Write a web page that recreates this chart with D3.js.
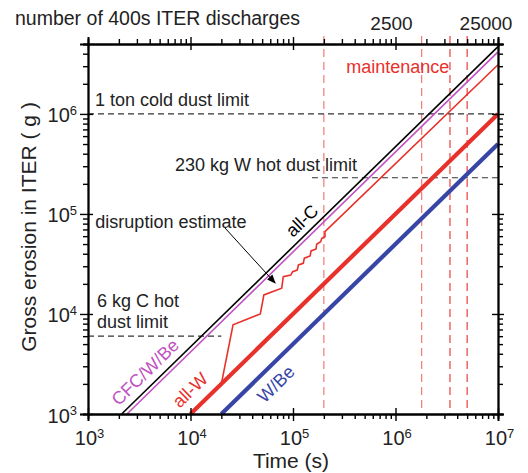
<!DOCTYPE html>
<html>
<head>
<meta charset="utf-8">
<script src="https://cdn.jsdelivr.net/npm/d3@7"></script>
<style>
  body { margin: 0; background: #fff; }
  svg { font-family: "Liberation Sans", Arial, sans-serif; }
</style>
</head>
<body>
<svg id="chart" width="528" height="473"></svg>
<script>
// erosion lines, [time s, grams] end points
const allC_t = [2130, 1e7];
const allC_E = [1000, 4.7e6];
const cfc_t = [2400, 1e7];
const cfc_E = [1000, 4.17e6];
const allW_t = [1e4, 1e7];
const allW_E = [1000, 1e6];
const wbe_t = [2e4, 1e7];
const wbe_E = [1000, 5e5];

// all-W with disruptions
const disr_t = [2e4, 2.6e4, 4.8e4, 5.2e4, 7.76e4, 8.04e4, 9.5e4, 9.93e4, 1.10e5, 1.13e5, 1.26e5, 1.29e5,
  1.47e5, 1.50e5, 1.68e5, 1.70e5, 1.86e5, 1.91e5, 2.05e5, 2.05e5, 1e7];
const disr_E = [2000, 7800, 1.0e4, 1.55e4, 1.81e4, 2.36e4, 2.45e4, 2.65e4, 2.75e4, 3.09e4, 3.21e4, 3.61e4,
  3.80e4, 4.27e4, 4.47e4, 4.98e4, 5.28e4, 5.71e4, 5.93e4, 6.65e4, 3.1e6];

// dust limits
const limitNames = ["1 ton cold dust limit", "230 kg W hot dust limit", "6 kg C hot|dust limit"];
const limitE = [1e6, 2.3e5, 6000];
const limitFrom = [1e3, 1.53e5, 1e3];
const limitTo = [1e7, 1e7, 2e4];

// maintenance times
const maintT = [2e5, 1.8e6, 3.4e6, 5e6];

const xTicks = [1e3, 1e4, 1e5, 1e6, 1e7];
const yTicks = [1e3, 1e4, 1e5, 1e6];
const topTicks = [1e6, 1e7];
const topLabels = ["2500", "25000"];

const width = 528, height = 473;
const margin = {top: 44, right: 30, bottom: 59, left: 88};

const svg = d3.select("#chart");

const x = d3.scaleLog().domain([1e3, 1e7]).range([margin.left, width - margin.right]);
const y = d3.scaleLog().domain([1e3, 5e6]).range([height - margin.bottom, margin.top]);

const red = "#e8312b", blue = "#3746a6", purple = "#c052c2";

function minors(dom) {
  const out = [];
  for (let p = Math.floor(Math.log10(dom[0])); p < Math.log10(dom[1]); p++) {
    for (let k = 2; k <= 9; k++) {
      const v = k * Math.pow(10, p);
      if (v > dom[0] && v <= dom[1]) out.push(v);
    }
  }
  return out;
}

const x0 = margin.left, x1 = width - margin.right;
const y0 = height - margin.bottom, y1 = margin.top;

// maintenance lines
svg.append("g")
  .selectAll("line")
  .data(maintT)
  .join("line")
  .attr("x1", d => x(d)).attr("x2", d => x(d))
  .attr("y1", y1 - 8).attr("y2", y0)
  .attr("stroke", (d, i) => i < 2 ? "#f07a74" : "#e8403a")
  .attr("stroke-width", 1.2)
  .attr("stroke-dasharray", "8,5");

// dust limits
svg.append("g")
  .selectAll("line")
  .data(limitE)
  .join("line")
  .attr("x1", (d, i) => x(limitFrom[i])).attr("x2", (d, i) => x(limitTo[i]))
  .attr("y1", d => y(d)).attr("y2", d => y(d))
  .attr("stroke", "#333")
  .attr("stroke-width", 1.1)
  .attr("stroke-dasharray", "6,4");

const line = d3.line().x(d => x(d[0])).y(d => y(d[1]));
const zip = (a, b) => a.map((v, i) => [v, b[i]]);

const series = [
  {t: allC_t, e: allC_E, c: "#000", w: 1.6},
  {t: cfc_t, e: cfc_E, c: purple, w: 1.6},
  {t: disr_t, e: disr_E, c: red, w: 1.6},
  {t: allW_t, e: allW_E, c: red, w: 4.2},
  {t: wbe_t, e: wbe_E, c: blue, w: 4.2}
];
svg.append("g")
  .selectAll("path")
  .data(series)
  .join("path")
  .attr("d", d => line(zip(d.t, d.e)))
  .attr("fill", "none")
  .attr("stroke", d => d.c)
  .attr("stroke-width", d => d.w)
  .attr("stroke-linejoin", "miter");

// axes
function supLabel(sel) {
  sel.text(null);
  sel.append("tspan").text("10");
  sel.append("tspan").attr("dy", "-0.55em").attr("font-size", "13px").text(d => Math.round(Math.log10(d)));
}

function styleAxis(g) {
  g.selectAll("path.domain").attr("stroke", "#000").attr("stroke-width", 1.8);
  g.selectAll(".tick line").attr("stroke", "#000").attr("stroke-width", 1.4);
}

// bottom
svg.append("g").attr("transform", `translate(0,${y0})`)
  .call(d3.axisBottom(x).tickValues(minors(x.domain())).tickSize(5).tickFormat(""))
  .call(styleAxis);
svg.append("g").attr("transform", `translate(0,${y0})`)
  .call(d3.axisBottom(x).tickValues(xTicks).tickSizeInner(-6).tickSizeOuter(0).tickFormat(""))
  .call(g => g.select(".domain").remove())
  .call(styleAxis);
const bx = svg.append("g").attr("transform", `translate(0,${y0})`)
  .call(d3.axisBottom(x).tickValues(xTicks).tickSize(7).tickPadding(8))
  .call(styleAxis);
bx.selectAll(".tick text")
  .attr("font-size", "20px").attr("fill", "#222")
  .attr("y", 31).attr("dy", 0).attr("dx", "0.05em")
  .call(supLabel);

// top
svg.append("g").attr("transform", `translate(0,${y1})`)
  .call(d3.axisTop(x).tickValues(minors(x.domain())).tickSize(5).tickFormat(""))
  .call(styleAxis);
svg.append("g").attr("transform", `translate(0,${y1})`)
  .call(d3.axisTop(x).tickValues(xTicks).tickSizeInner(-6).tickSizeOuter(0).tickFormat(""))
  .call(g => g.select(".domain").remove())
  .call(styleAxis);
const tx = svg.append("g").attr("transform", `translate(0,${y1})`)
  .call(d3.axisTop(x).tickValues(xTicks).tickSize(7).tickFormat(""))
  .call(styleAxis);
tx.selectAll(".toplab")
  .data(topTicks)
  .join("text")
  .attr("x", d => x(d)).attr("y", -14)
  .attr("dx", (d, i) => i === 1 ? -12 : -4)
  .attr("text-anchor", "middle")
  .attr("font-size", "19px").attr("fill", "#222")
  .text((d, i) => topLabels[i]);

// left
svg.append("g").attr("transform", `translate(${x0},0)`)
  .call(d3.axisLeft(y).tickValues(minors(y.domain())).tickSize(5).tickFormat(""))
  .call(styleAxis);
svg.append("g").attr("transform", `translate(${x0},0)`)
  .call(d3.axisLeft(y).tickValues(yTicks).tickSizeInner(-5).tickSizeOuter(0).tickFormat(""))
  .call(g => g.select(".domain").remove())
  .call(styleAxis);
const ly = svg.append("g").attr("transform", `translate(${x0},0)`)
  .call(d3.axisLeft(y).tickValues(yTicks).tickSize(8).tickPadding(3))
  .call(styleAxis);
ly.selectAll(".tick text")
  .attr("font-size", "20px").attr("fill", "#222")
  .attr("dy", "0.4em")
  .call(supLabel);

// right
svg.append("g").attr("transform", `translate(${x1},0)`)
  .call(d3.axisRight(y).tickValues(minors(y.domain())).tickSize(5).tickFormat(""))
  .call(styleAxis);
svg.append("g").attr("transform", `translate(${x1},0)`)
  .call(d3.axisRight(y).tickValues(yTicks).tickSizeInner(-6).tickSizeOuter(0).tickFormat(""))
  .call(g => g.select(".domain").remove())
  .call(styleAxis);
svg.append("g").attr("transform", `translate(${x1},0)`)
  .call(d3.axisRight(y).tickValues(yTicks).tickSize(6).tickFormat(""))
  .call(styleAxis);

// axis titles
svg.append("text")
  .attr("x", (x0 + x1) / 2 - 2).attr("y", 468)
  .attr("text-anchor", "middle").attr("font-size", "21px").attr("fill", "#222")
  .text("Time (s)");
svg.append("text")
  .attr("transform", `translate(36,${(y0 + y1) / 2 - 2}) rotate(-90)`)
  .attr("text-anchor", "middle").attr("font-size", "21px").attr("fill", "#222")
  .text("Gross erosion in ITER ( g )");
svg.append("text")
  .attr("x", 15).attr("y", 25)
  .attr("font-size", "19.5px").attr("fill", "#222")
  .text("number of 400s ITER discharges");

// limit annotations
const ann = svg.append("g").attr("font-size", "18px").attr("fill", "#222");
ann.append("text").attr("x", x(1e3) + 7).attr("y", y(limitE[0]) - 8).text(limitNames[0]);
ann.append("text").attr("x", x(7.06e3)).attr("y", y(limitE[1]) - 7).text(limitNames[1]);
limitNames[2].split("|").forEach((s, i) => {
  ann.append("text").attr("x", x(1e3) + 9).attr("y", y(limitE[2]) - 29 + i * 21).text(s);
});
ann.append("text").attr("x", x(1.18e3)).attr("y", y(7.3e4)).text("disruption estimate");

svg.append("text")
  .attr("x", (x(maintT[1]) + x(maintT[2])) / 2 - 38).attr("y", 73)
  .attr("text-anchor", "middle").attr("font-size", "18px").attr("fill", red)
  .text("maintenance");

// arrow
svg.append("defs").append("marker")
  .attr("id", "arr").attr("viewBox", "0 0 10 10")
  .attr("refX", 9).attr("refY", 5)
  .attr("markerWidth", 9).attr("markerHeight", 9)
  .attr("markerUnits", "userSpaceOnUse")
  .attr("orient", "auto")
  .append("path").attr("d", "M0,1L10,5L0,9z").attr("fill", "#000");
svg.append("line")
  .attr("x1", x(2.17e4)).attr("y1", y(7.24e4))
  .attr("x2", x(6.7e4)).attr("y2", y(2.04e4))
  .attr("stroke", "#000").attr("stroke-width", 1)
  .attr("marker-end", "url(#arr)");

// rotated series labels
const ang = Math.atan2(y(1e4) - y(1e3), x(1e4) - x(1e3)) * 180 / Math.PI;
const labs = [
  {s: "all-C", t: 1.22e5, e: 8.6e4, c: "#000"},
  {s: "CFC/W/Be", t: 3.6e3, e: 2630, c: purple},
  {s: "all-W", t: 9.9e3, e: 1740, c: red},
  {s: "W/Be", t: 6.8e4, e: 2000, c: blue}
];
svg.append("g")
  .selectAll("text")
  .data(labs)
  .join("text")
  .attr("transform", d => `translate(${x(d.t)},${y(d.e)}) rotate(${ang})`)
  .attr("text-anchor", "middle").attr("dy", "0.35em")
  .attr("font-size", "18px").attr("fill", d => d.c)
  .text(d => d.s);
</script>
</body>
</html>
